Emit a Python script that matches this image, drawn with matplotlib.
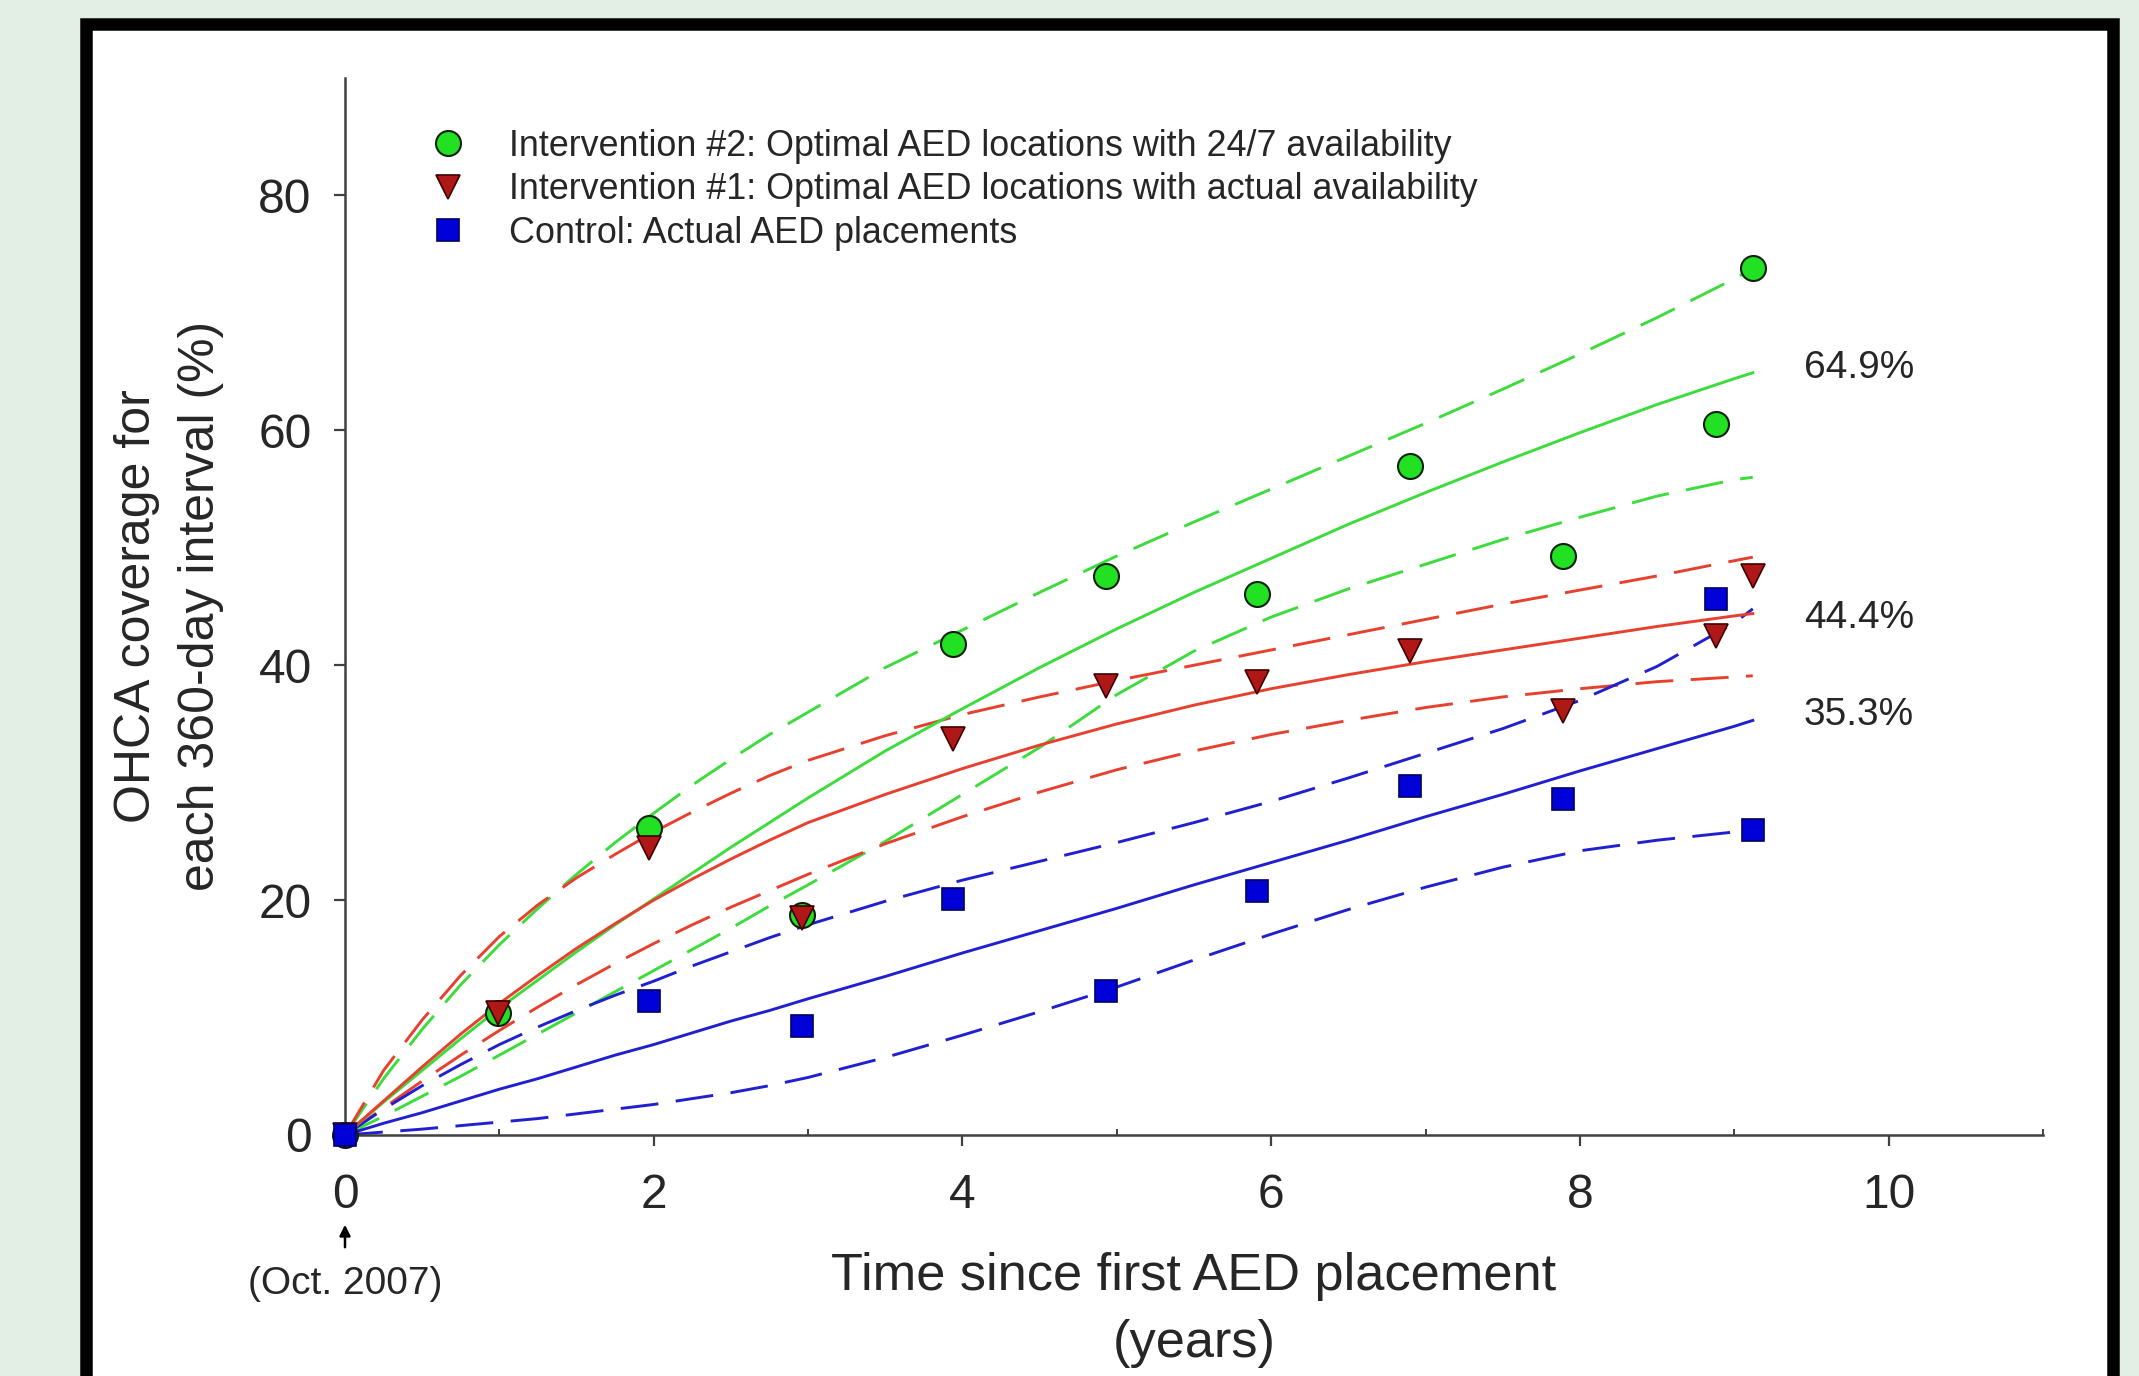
import numpy as np
import matplotlib
matplotlib.use("Agg")
import matplotlib.pyplot as plt
from matplotlib import font_manager as fm
from matplotlib.lines import Line2D
from matplotlib.patches import Rectangle
from matplotlib.ticker import MultipleLocator
import matplotlib.transforms as mtransforms

# ---------------- data ----------------
PT_X = [0, 0.99, 1.97, 2.96, 3.94, 4.93, 5.91, 6.90, 7.89, 8.88, 9.12]
GREEN_PTS = [0, 10.4, 26.1, 18.7, 41.8, 47.6, 46.1, 57.0, 49.3, 60.5, 73.8]
RED_PTS = [0, 10.4, 24.4, 18.5, 33.7, 38.2, 38.6, 41.2, 36.1, 42.5, 47.6]
BLUE_PTS = [0, np.nan, 11.4, 9.3, 20.1, 12.3, 20.8, 29.7, 28.6, 45.6, 26.0]

X_FIT = [0, 0.25, 0.5, 0.75, 1, 1.25, 1.5, 1.75, 2, 2.25, 2.5, 2.75, 3,
         3.5, 4, 4.5, 5, 5.5, 6, 6.5, 7, 7.5, 8, 8.5, 9, 9.12]
GREEN_FIT = [0, 2.8, 5.5, 8.2, 10.8, 13.2, 15.6, 17.9, 20.1, 22.3, 24.5, 26.6, 28.7,
             32.7, 36.3, 39.8, 43.1, 46.2, 49.1, 52.0, 54.7, 57.3, 59.8, 62.2, 64.4, 64.9]
GREEN_UP = [0, 4.8, 9.0, 12.8, 16.2, 19.3, 22.2, 24.9, 27.4, 29.8, 32.0, 34.1, 36.0,
            39.8, 43.0, 46.2, 49.3, 52.2, 55.0, 57.8, 60.6, 63.5, 66.5, 69.6, 72.9, 73.8]
GREEN_LO = [0, 1.6, 3.3, 5.0, 6.8, 8.6, 10.4, 12.2, 14.0, 15.8, 17.6, 19.5, 21.3,
            25.0, 29.0, 33.0, 37.5, 41.2, 44.1, 46.5, 48.6, 50.7, 52.6, 54.4, 55.8, 56.0]
RED_FIT = [0, 2.9, 5.8, 8.6, 11.2, 13.6, 15.9, 18.0, 20.0, 21.8, 23.5, 25.1, 26.6,
           29.0, 31.2, 33.2, 35.0, 36.6, 38.0, 39.2, 40.3, 41.3, 42.3, 43.3, 44.2, 44.4]
RED_UP = [0, 5.5, 9.8, 13.6, 16.9, 19.6, 21.9, 23.9, 25.8, 27.5, 29.1, 30.6, 31.9,
          34.0, 35.8, 37.3, 38.7, 40.0, 41.3, 42.6, 43.9, 45.2, 46.4, 47.6, 48.9, 49.2]
RED_LO = [0, 2.3, 4.6, 6.8, 8.9, 10.9, 12.8, 14.6, 16.3, 17.9, 19.4, 20.8, 22.2,
          24.8, 27.1, 29.2, 31.1, 32.7, 34.1, 35.3, 36.4, 37.3, 38.0, 38.6, 39.0, 39.1]
BLUE_FIT = [0, 1.0, 1.9, 2.9, 3.9, 4.8, 5.8, 6.8, 7.7, 8.7, 9.7, 10.6, 11.6,
            13.5, 15.5, 17.4, 19.3, 21.3, 23.2, 25.1, 27.1, 29.0, 31.0, 32.9, 34.8, 35.3]
BLUE_UP = [0, 2.2, 4.2, 6.0, 7.7, 9.2, 10.6, 11.9, 13.1, 14.4, 15.6, 16.8, 17.9,
           19.9, 21.7, 23.3, 24.9, 26.6, 28.4, 30.4, 32.5, 34.6, 37.0, 39.9, 43.6, 44.8]
BLUE_LO = [0, 0.25, 0.5, 0.8, 1.1, 1.4, 1.8, 2.2, 2.6, 3.1, 3.6, 4.2, 4.9,
           6.6, 8.5, 10.5, 12.6, 14.9, 17.1, 19.2, 21.1, 22.8, 24.2, 25.1, 25.8, 26.0]

LEGEND_LABELS = [
    "Intervention #2: Optimal AED locations with 24/7 availability",
    "Intervention #1: Optimal AED locations with actual availability",
    "Control: Actual AED placements",
]
END_LABELS = ["64.9%", "44.4%", "35.3%"]
X_TICKS = [0, 2, 4, 6, 8, 10]
Y_TICKS = [0, 20, 40, 60, 80]

# ---------------- style ----------------
def has_font(name):
    try:
        fm.findfont(fm.FontProperties(family=name), fallback_to_default=False)
        return True
    except Exception:
        return False

BASE_FONT = "Liberation Sans" if has_font("Liberation Sans") else "DejaVu Sans"
plt.rcParams["font.family"] = [BASE_FONT, "DejaVu Sans"]

G_LINE, G_FILL = "#3cdc3c", "#22e022"
R_LINE, R_FILL = "#e8402e", "#b01818"
B_LINE, B_FILL = "#2020d0", "#0000d8"
TXT = "#262626"
AX_COL = "#404040"

W, H = 2139, 1376
fig = plt.figure(figsize=(W / 100, H / 100), dpi=100)
fig.patch.set_facecolor("#e3eee5")

# white panel with thick black frame
bw = 12.5
frame = Rectangle((86.25 / W, -0.03), (2112.75 - 86.25) / W, 1 - 24.25 / H + 0.03,
                  transform=fig.transFigure, facecolor="white", edgecolor="black",
                  linewidth=bw * 72 / 100, zorder=0)
fig.add_artist(frame)

ax_l, ax_r = 345 / W, 2043 / W
ax_b, ax_t = 1 - 1135 / H, 1 - 78 / H
ax = fig.add_axes([ax_l, ax_b, ax_r - ax_l, ax_t - ax_b])
ax.set_facecolor("none")
ax.set_xlim(0, 11)
ax.set_ylim(0, 90)

lw = 2.1
dash = (13, 6)
for y, c in [(GREEN_UP, G_LINE), (GREEN_LO, G_LINE), (RED_UP, R_LINE), (RED_LO, R_LINE),
             (BLUE_UP, B_LINE), (BLUE_LO, B_LINE)]:
    ax.plot(X_FIT, y, color=c, lw=lw, dashes=dash, zorder=2, solid_joinstyle="round",
            dash_joinstyle="round")
for y, c in [(GREEN_FIT, G_LINE), (RED_FIT, R_LINE), (BLUE_FIT, B_LINE)]:
    ax.plot(X_FIT, y, color=c, lw=lw, zorder=3, solid_joinstyle="round")

G_MS, R_MS, B_MS = 18, 17.5, 16
ax.plot(PT_X, GREEN_PTS, ls="none", marker="o", ms=G_MS, mfc=G_FILL, mec="#102010", mew=1.5,
        zorder=5, clip_on=False)
ax.plot(PT_X, RED_PTS, ls="none", marker="v", ms=R_MS, mfc=R_FILL, mec="#400000", mew=1.2,
        zorder=6, clip_on=False)
ax.plot(PT_X, BLUE_PTS, ls="none", marker="s", ms=B_MS, mfc=B_FILL, mec="#000060", mew=1.2,
        zorder=7, clip_on=False)

# end labels
for lab, yv, off in zip(END_LABELS, [GREEN_FIT[-1], RED_FIT[-1], BLUE_FIT[-1]], [0.4, -0.4, 0.5]):
    ax.text(9.45, yv + off, lab, fontsize=28, color=TXT, va="center", ha="left")

# spines and ticks
for s in ["top", "right"]:
    ax.spines[s].set_visible(False)
for s in ["left", "bottom"]:
    ax.spines[s].set_color(AX_COL)
    ax.spines[s].set_linewidth(1.8)
ax.set_xticks(X_TICKS)
ax.set_yticks(Y_TICKS)
ax.xaxis.set_minor_locator(MultipleLocator(1))
ax.tick_params(axis="both", which="major", direction="out", length=8, width=1.6,
               color=AX_COL, labelsize=34.5, labelcolor=TXT)
ax.tick_params(axis="x", which="major", pad=19.5)
ax.tick_params(axis="y", which="major", pad=16)
ax.tick_params(axis="x", which="minor", direction="in", length=4, width=1.4, color=AX_COL)

# legend
handles = [
    Line2D([], [], ls="none", marker="o", ms=G_MS, mfc=G_FILL, mec="#102010", mew=1.5),
    Line2D([], [], ls="none", marker="v", ms=R_MS, mfc=R_FILL, mec="#400000", mew=1.2),
    Line2D([], [], ls="none", marker="s", ms=B_MS, mfc=B_FILL, mec="#000060", mew=1.2),
]
leg = ax.legend(handles, LEGEND_LABELS, loc="upper left", bbox_to_anchor=(0.050, 0.952),
                frameon=False, fontsize=25.8, handlelength=1.0, handletextpad=1.2,
                labelspacing=0.24, borderpad=0, borderaxespad=0)
for t in leg.get_texts():
    t.set_color(TXT)

# axis labels
fig.text(1194 / W, 1 - 1310 / H, "Time since first AED placement\n(years)", ha="center",
         va="center", fontsize=37.7, color=TXT, linespacing=1.45)
fig.text(169.5 / W, 1 - 606 / H, "OHCA coverage for\neach 360-day interval (%)", ha="center",
         va="center", rotation=90, fontsize=36, color=TXT, linespacing=1.5)

# start-date note under the x origin
trans = mtransforms.blended_transform_factory(ax.transData, ax.transAxes)
ax.annotate("", xy=(0, -0.0823), xytext=(0, -0.1088), xycoords=trans, textcoords=trans,
            arrowprops=dict(arrowstyle="-|>", color="black", lw=1.8, mutation_scale=16),
            annotation_clip=False)
ax.text(0, -0.1414, "(Oct. 2007)", transform=trans, ha="center", va="center", fontsize=28,
        color=TXT, clip_on=False)

fig.savefig("out.png", dpi=100, facecolor=fig.get_facecolor())
